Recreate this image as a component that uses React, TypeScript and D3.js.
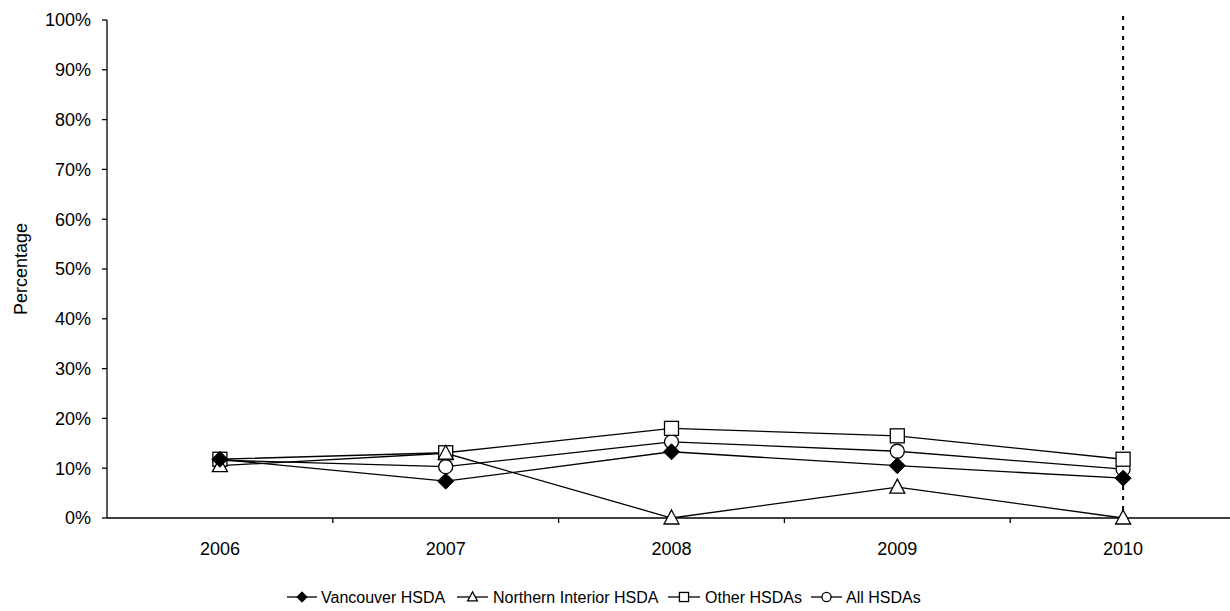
import React from "react";
import * as d3 from "d3";

const years = ["2006", "2007", "2008", "2009", "2010"];
const vancouver = [11.8, 7.4, 13.3, 10.5, 8.0];
const northern = [10.5, 13.0, 0, 6.2, 0];
const other = [11.8, 13.1, 18.0, 16.5, 11.8];
const allHsdas = [11.6, 10.3, 15.3, 13.4, 9.8];
const yTicks = [0, 10, 20, 30, 40, 50, 60, 70, 80, 90, 100];
const seriesNames = ["Vancouver HSDA", "Northern Interior HSDA", "Other HSDAs", "All HSDAs"];
const dashedYear = "2010";

type Shape = "diamond" | "triangle" | "square" | "circle";

const series: { name: string; values: number[]; shape: Shape }[] = [
  { name: seriesNames[3], values: allHsdas, shape: "circle" },
  { name: seriesNames[2], values: other, shape: "square" },
  { name: seriesNames[1], values: northern, shape: "triangle" },
  { name: seriesNames[0], values: vancouver, shape: "diamond" },
];

function Marker({ shape, x, y, k = 1 }: { shape: Shape; x: number; y: number; k?: number }) {
  const sw = 1.3;
  if (shape === "diamond") {
    const s = 8 * k;
    return <path d={`M${x},${y - s}L${x + s},${y}L${x},${y + s}L${x - s},${y}Z`} fill="#000" stroke="#000" strokeWidth={1} />;
  }
  if (shape === "square") {
    const s = 7 * k;
    return <rect x={x - s} y={y - s} width={2 * s} height={2 * s} fill="#fff" stroke="#000" strokeWidth={sw} />;
  }
  if (shape === "circle") return <circle cx={x} cy={y} r={7 * k} fill="#fff" stroke="#000" strokeWidth={sw} />;
  return (
    <path
      d={`M${x},${y - 8 * k}L${x + 7.5 * k},${y + 6 * k}L${x - 7.5 * k},${y + 6 * k}Z`}
      fill="#fff"
      stroke="#000"
      strokeWidth={sw}
    />
  );
}

export default function App() {
  const left = 107, right = 1236, top = 20, bottom = 518;
  const x = d3.scaleBand<string>().domain(years).range([left, right]);
  const y = d3.scaleLinear().domain([0, 100]).range([bottom, top]);
  const cx = (yr: string) => (x(yr) as number) + x.bandwidth() / 2;
  const line = d3.line<number>().x((_, i) => cx(years[i])).y((v) => y(v));
  const font = "'Liberation Sans', Arial, sans-serif";

  const legendItems = [
    { name: seriesNames[0], shape: "diamond" as Shape, x0: 287, x1: 317, tx: 321 },
    { name: seriesNames[1], shape: "triangle" as Shape, x0: 457, x1: 488, tx: 493 },
    { name: seriesNames[2], shape: "square" as Shape, x0: 668, x1: 700, tx: 705 },
    { name: seriesNames[3], shape: "circle" as Shape, x0: 811, x1: 842, tx: 846 },
  ];
  const ly = 597;

  return (
    <svg width={1230} height={611} style={{ position: "absolute", left: 0, top: 0, background: "#fff" }} fontFamily={font}>
      <rect x={0} y={0} width={1230} height={611} fill="#fff" />
      {/* y axis */}
      <line x1={left} x2={left} y1={top} y2={bottom} stroke="#000" strokeWidth={1.3} />
      {yTicks.map((t) => (
        <g key={t}>
          <line x1={left - 5} x2={left} y1={y(t)} y2={y(t)} stroke="#000" strokeWidth={1.3} />
          <text x={left - 16} y={y(t)} dy="0.35em" textAnchor="end" fontSize={18}>{t}%</text>
        </g>
      ))}
      <text transform={`translate(27,${(top + bottom) / 2}) rotate(-90)`} textAnchor="middle" fontSize={18}>Percentage</text>
      {/* x axis */}
      <line x1={left} x2={right} y1={bottom} y2={bottom} stroke="#000" strokeWidth={1.3} />
      {years.map((yr, i) => (
        <g key={yr}>
          {i > 0 && <line x1={x(yr)} x2={x(yr)} y1={bottom} y2={bottom + 5} stroke="#000" strokeWidth={1.3} />}
          <text x={cx(yr)} y={555} textAnchor="middle" fontSize={18}>{yr}</text>
        </g>
      ))}
      {/* dashed vertical line */}
      <line x1={cx(dashedYear)} x2={cx(dashedYear)} y1={16} y2={bottom} stroke="#000" strokeWidth={2} strokeDasharray="4,6" />
      {/* series */}
      {series.map((s) => (
        <path key={s.name} d={line(s.values) as string} fill="none" stroke="#000" strokeWidth={1.3} />
      ))}
      {series.map((s) => (
        <g key={s.name + "m"}>
          {s.values.map((v, i) => (
            <Marker key={i} shape={s.shape} x={cx(years[i])} y={y(v)} />
          ))}
        </g>
      ))}
      {/* legend */}
      {legendItems.map((it) => (
        <g key={it.name}>
          <line x1={it.x0} x2={it.x1} y1={ly} y2={ly} stroke="#000" strokeWidth={1.3} />
          <Marker shape={it.shape} x={(it.x0 + it.x1) / 2} y={ly} k={0.65} />
          <text x={it.tx} y={ly} dy="0.35em" fontSize={16}>{it.name}</text>
        </g>
      ))}
    </svg>
  );
}
